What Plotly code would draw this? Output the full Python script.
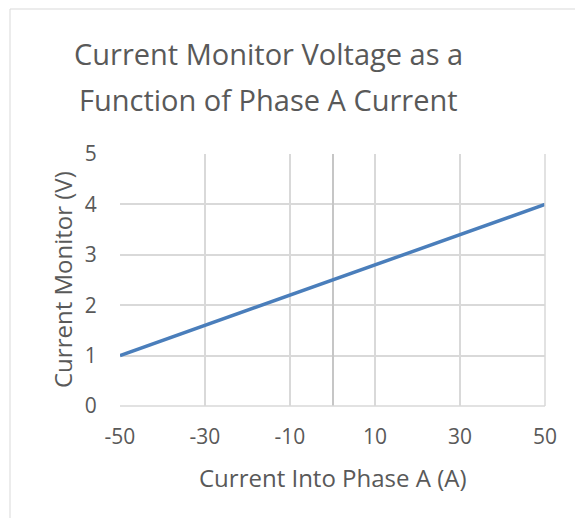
import plotly.graph_objects as go

current_a = [-50, -40, -30, -20, -10, 0, 10, 20, 30, 40, 50]
monitor_v = [1.0, 1.3, 1.6, 1.9, 2.2, 2.5, 2.8, 3.1, 3.4, 3.7, 4.0]
x_ticks = [-50, -30, -10, 10, 30, 50]
y_ticks = [0, 1, 2, 3, 4, 5]

OFF = 8  # page body margin
W, H = 583 - OFF, 518 - OFF
L, R, T, B = 120 - OFF, 545 - OFF, 154 - OFF, 406 - OFF
pw, ph = R - L, B - T

def px(x):  # window pixel -> paper
    return (x - OFF - L) / pw

def py(y):
    return (B - (y - OFF)) / ph

FONT = "Open Sans"
TXT = "#595959"
GRID = "#d9d9d9"

fig = go.Figure()
fig.add_trace(go.Scatter(x=current_a, y=monitor_v, mode="lines",
                         line=dict(color="#4a7ebb", width=3.5), showlegend=False))

fig.update_layout(
    width=W, height=H,
    margin=dict(l=L, r=W - R, t=T, b=H - B),
    paper_bgcolor="white", plot_bgcolor="white",
    font=dict(family=FONT, color=TXT),
    xaxis=dict(range=[-50, 50], tickvals=x_ticks, ticktext=[str(v) for v in x_ticks],
               showgrid=True, gridcolor=GRID, gridwidth=1.5,
               zeroline=True, zerolinecolor="#c6c6c6", zerolinewidth=2,
               showline=False, ticks="outside", ticklen=12, tickcolor="rgba(0,0,0,0)",
               tickfont=dict(size=21, color=TXT, family=FONT)),
    yaxis=dict(range=[0, 5], tickvals=y_ticks,
               showgrid=True, gridcolor=GRID, gridwidth=1.5,
               zeroline=False, showline=False, ticks="outside", ticklen=18, tickcolor="rgba(0,0,0,0)",
               tickfont=dict(size=21, color=TXT, family=FONT)),
    shapes=[
        dict(type="rect", xref="paper", yref="paper", x0=px(10), y0=py(H + 40), x1=px(W + 40), y1=py(9),
             line=dict(color="#d9d9d9", width=1), fillcolor="rgba(0,0,0,0)", layer="below"),
        dict(type="line", xref="paper", yref="paper", x0=1, x1=1, y0=0, y1=1,
             line=dict(color=GRID, width=1.5)),
        dict(type="line", xref="paper", yref="paper", x0=0, x1=1, y0=0, y1=0,
             line=dict(color=GRID, width=1.5)),
    ],
    annotations=[
        dict(text="Current Monitor Voltage as a", xref="paper", yref="paper", x=px(268), y=py(53),
             xanchor="center", yanchor="middle", showarrow=False, font=dict(size=29, color=TXT, family=FONT)),
        dict(text="Function of Phase A Current", xref="paper", yref="paper", x=px(268), y=py(99),
             xanchor="center", yanchor="middle", showarrow=False, font=dict(size=29, color=TXT, family=FONT)),
        dict(text="Current Into Phase A (A)", xref="paper", yref="paper", x=px(332), y=py(477),
             xanchor="center", yanchor="middle", showarrow=False, font=dict(size=24, color=TXT, family=FONT)),
        dict(text="Current Monitor (V)", xref="paper", yref="paper", x=px(62), y=py(280),
             xanchor="center", yanchor="middle", showarrow=False, textangle=-90,
             font=dict(size=24, color=TXT, family=FONT)),
    ],
)

fig.write_html("out.html")
